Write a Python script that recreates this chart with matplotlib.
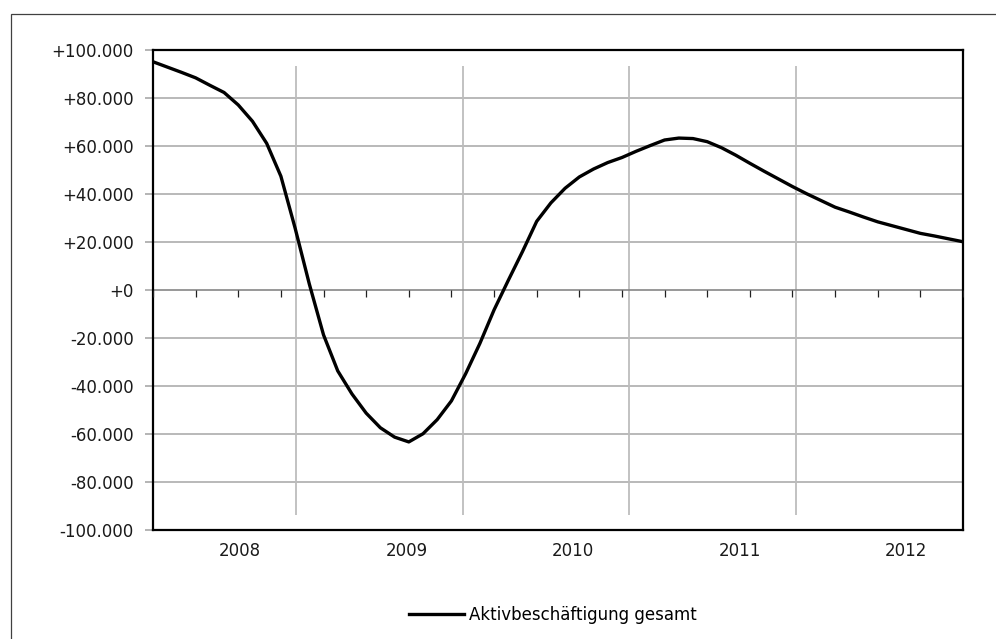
import numpy as np
import matplotlib
matplotlib.use("Agg")
import matplotlib.pyplot as plt
from matplotlib.patches import Rectangle
from matplotlib.lines import TICKDOWN

plt.rcParams['font.family'] = ['DejaVu Sans']

# monatliche Veränderung (Personen)
aktiv = [95100, 92900, 90700, 88400, 85300, 82300, 77100, 70300, 61100, 47400,
         25800, 2500, -18700, -33700, -43300, -51300, -57400, -61300, -63300, -59900,
         -54000, -46200, -34900, -22300, -8300, 4000, 16000, 28600, 36300, 42400,
         47100, 50400, 53100, 55200, 57800, 60200, 62500, 63300, 63100, 61800,
         59300, 56200, 52800, 49500, 46300, 43100, 40100, 37300, 34500, 32500,
         30400, 28400, 26800, 25200, 23600, 22500, 21300, 20100]
years = ['2008', '2009', '2010', '2011', '2012']
series_name = 'Aktivbeschäftigung gesamt'

x = np.arange(len(aktiv))
n = len(aktiv) - 1
year_step = 11.72
label_pos = 6.12 + year_step * np.arange(len(years))
grid_pos = 10.06 + year_step * np.arange(len(years) - 1)

fig = plt.figure(figsize=(9.96, 6.39), dpi=100)
ax = fig.add_axes([153 / 996, 109 / 639, 810 / 996, 480 / 639])

# äußerer Rahmen (rechts und unten abgeschnitten)
top = (639 - 14) / 639
fig.patches.append(Rectangle((11 / 996, -0.2), 2.0, top + 0.2,
                             transform=fig.transFigure, fill=False,
                             edgecolor='#404040', linewidth=0.9))

ax.set_xlim(0, n)
ax.set_ylim(-100000, 100000)

yt = np.arange(-100000, 100001, 20000)
ax.set_yticks(yt)
ax.set_yticklabels(['+0' if v == 0 else ('+' if v > 0 else '-') + '{:,}'.format(abs(v)).replace(',', '.')
                    for v in yt])
for v in yt:
    if v not in (0, 100000, -100000):
        ax.axhline(v, color='#b3b3b3', lw=1.3, zorder=1)
ax.axhline(0, color='#868686', lw=1.2, zorder=2)
ax.vlines(grid_pos, -93750, 93300, color='#bdbdbd', lw=1.3, zorder=1)

# kleine Teilstriche auf der Nulllinie
qt = np.arange(0, n + 1, 3)
ax.plot(qt, np.zeros(len(qt)), ls='none', marker=TICKDOWN, markersize=5,
        markeredgewidth=0.9, color='#222222', zorder=3)

ax.plot(x, aktiv, color='black', lw=2.4, zorder=4, label=series_name,
        solid_joinstyle='round')

ax.set_xticks(label_pos)
ax.set_xticklabels(years)
ax.tick_params(axis='x', length=0, pad=9, labelsize=12, labelcolor='#1a1a1a')
ax.tick_params(axis='y', length=6, width=1.1, color='#a0a0a0', pad=8,
               labelsize=12, labelcolor='#1a1a1a')

for s in ax.spines.values():
    s.set_color('black')
    s.set_linewidth(1.6)

fig.legend(loc='center', bbox_to_anchor=(553 / 996, 1 - 615 / 639), frameon=False,
           fontsize=12, handlelength=3.3, handletextpad=0.3)

fig.savefig('out.png', dpi=100)
